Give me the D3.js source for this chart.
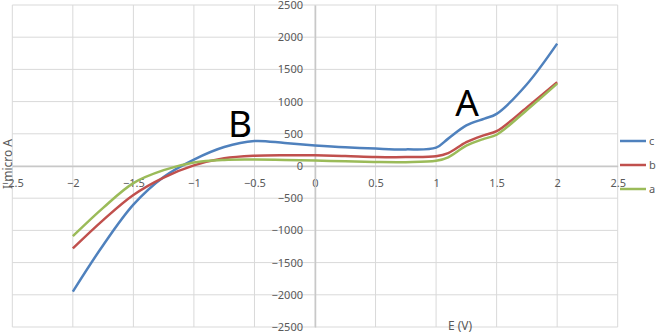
<!DOCTYPE html>
<html>
<head>
<meta charset="utf-8">
<script src="https://cdn.jsdelivr.net/npm/d3@7"></script>
<style>
  body { margin: 0; background: #fff; }
  svg text { font-family: "Noto Sans", sans-serif; }
  .tick text { fill: #595959; font-size: 11px; }
</style>
</head>
<body>
<svg width="658" height="332"></svg>
<script>
const svg = d3.select('svg');

// potential in volts
const potential = [-2, -1.75, -1.5, -1.25, -1, -0.75, -0.5, -0.25, 0, 0.25, 0.5, 0.75, 1, 1.1, 1.25, 1.4, 1.5, 1.75, 2];
// current, micro A
const seriesC = [-1950, -1230, -600, -170, 100, 295, 388, 357, 320, 290, 270, 258, 285, 425, 630, 736, 810, 1270, 1900];
const seriesB = [-1280, -840, -450, -180, 10, 120, 160, 168, 165, 155, 140, 138, 150, 200, 370, 480, 540, 910, 1300];
const seriesA = [-1090, -650, -265, -65, 55, 95, 100, 95, 85, 72, 62, 60, 80, 135, 315, 425, 485, 870, 1280];

const seriesNames = ['c', 'b', 'a'];
const seriesColors = ['#4F81BD', '#C0504D', '#9BBB59'];
const seriesData = [seriesC, seriesB, seriesA];

const xTicks = [-2.5, -2, -1.5, -1, -0.5, 0, 0.5, 1, 1.5, 2, 2.5];
const yTicks = [-2500, -2000, -1500, -1000, -500, 0, 500, 1000, 1500, 2000, 2500];

const xScale = d3.scaleLinear().domain([-2.5, 2.5]).range([12.3, 617.7]);
const yScale = d3.scaleLinear().domain([-2500, 2500]).range([327, 5]);

// grid
const grid = svg.append('g');
grid.selectAll('line.v').data(xTicks).enter().append('line')
    .attr('x1', d => xScale(d)).attr('x2', d => xScale(d))
    .attr('y1', yScale(2500)).attr('y2', yScale(-2500))
    .attr('stroke', '#D9D9D9').attr('stroke-width', 1);
grid.selectAll('line.h').data(yTicks).enter().append('line')
    .attr('y1', d => yScale(d)).attr('y2', d => yScale(d))
    .attr('x1', xScale(-2.5)).attr('x2', xScale(2.5))
    .attr('stroke', '#D9D9D9').attr('stroke-width', 1);

// axes crossing at zero
const xAxis = d3.axisBottom(xScale)
    .tickValues(xTicks)
    .tickSize(0)
    .tickPadding(13)
    .tickFormat(d3.format('~g'));
const yAxis = d3.axisLeft(yScale)
    .tickValues(yTicks)
    .tickSize(0)
    .tickPadding(12)
    .tickFormat(d3.format('d'));

const xAxisG = svg.append('g')
    .attr('transform', `translate(0, ${yScale(0)})`)
    .call(xAxis);
xAxisG.select('.domain').attr('stroke', '#C8C8C8').attr('stroke-width', 1.5);

const yAxisG = svg.append('g')
    .attr('transform', `translate(${xScale(0)}, 0)`)
    .call(yAxis);
yAxisG.select('.domain').attr('stroke', '#C8C8C8').attr('stroke-width', 1.5);

// curves
const line = d3.line()
    .x((d, i) => xScale(potential[i]))
    .y(d => yScale(d))
    .curve(d3.curveCatmullRom.alpha(0.5));

svg.selectAll('path.series').data(seriesData).enter().append('path')
    .attr('class', 'series')
    .attr('fill', 'none')
    .attr('stroke', (d, i) => seriesColors[i])
    .attr('stroke-width', 2.5)
    .attr('d', line);

// axis titles
svg.append('text')
    .attr('transform', `translate(12, 164) rotate(-90)`)
    .attr('text-anchor', 'middle')
    .attr('fill', '#595959')
    .style('font-size', '12px')
    .text('I micro A');

svg.append('text')
    .attr('x', 460)
    .attr('y', 330)
    .attr('text-anchor', 'middle')
    .attr('fill', '#595959')
    .style('font-size', '12px')
    .text('E (V)');

// annotations
svg.append('text')
    .attr('x', 467).attr('y', 116)
    .attr('text-anchor', 'middle')
    .attr('fill', '#000')
    .style('font-size', '37px')
    .text('A');
svg.append('text')
    .attr('x', 240).attr('y', 137)
    .attr('text-anchor', 'middle')
    .attr('fill', '#000')
    .style('font-size', '37px')
    .text('B');

// legend
const legend = svg.append('g');
const legendY = [141, 165, 189];
seriesNames.forEach((name, i) => {
    legend.append('line')
        .attr('x1', 620).attr('x2', 646)
        .attr('y1', legendY[i]).attr('y2', legendY[i])
        .attr('stroke', seriesColors[i])
        .attr('stroke-width', 2.5);
    legend.append('text')
        .attr('x', 649).attr('y', legendY[i])
        .attr('dy', '0.35em')
        .attr('fill', '#595959')
        .style('font-size', '11px')
        .text(name);
});
</script>
</body>
</html>
